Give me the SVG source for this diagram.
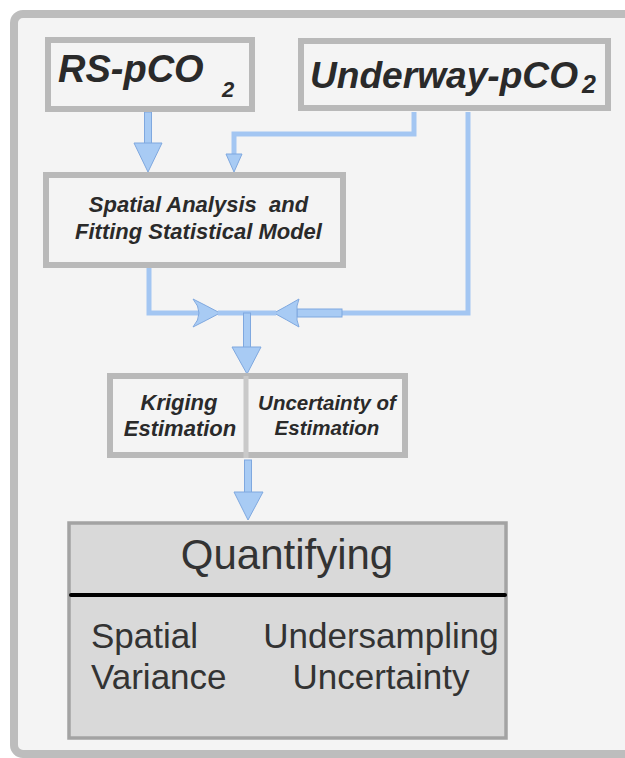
<svg xmlns="http://www.w3.org/2000/svg" width="625" height="758" viewBox="0 0 625 758">
<defs>
<style>
.box{fill:#f4f4f4;stroke:#b9b9b9;stroke-width:6}
.bi{font-family:"Liberation Sans",Arial,sans-serif;font-weight:bold;font-style:italic;fill:#2a2a2a}
.reg{font-family:"Liberation Sans",Arial,sans-serif;fill:#333333}
.line{fill:none;stroke:#a3c6f2;stroke-width:5;stroke-linejoin:miter}
.head{fill:#a8cbf4;stroke:#7fa8df;stroke-width:1}
</style>
</defs>
<rect width="625" height="758" fill="#ffffff"/>
<rect x="14" y="14" width="640" height="740" rx="9" fill="#f4f4f4" stroke="#bdbdbd" stroke-width="8"/>

<g id="connectors">
  <!-- RS to Spatial -->
  <rect x="144.5" y="112" width="7" height="32" class="head"/>
  <path d="M134,143 L162,143 L148,172 Z" class="head"/>
  <!-- Underway to Spatial -->
  <polyline points="414,112 414,134 234,134 234,156" class="line"/>
  <path d="M226,154 L242,154 L234,172 Z" class="head"/>
  <!-- Underway to junction -->
  <polyline points="468,112 468,313 340,313" class="line"/>
  <rect x="297" y="309" width="45" height="8" class="head"/>
  <path d="M274,313 Q287,306 299,299 Q296,306 297,313 Q296,320 299,327 Q287,320 274,313 Z" class="head"/>
  <!-- Spatial to junction -->
  <polyline points="149,268 149,313 200,313" class="line"/>
  <path d="M220,313 Q207,306 193,299 Q199,306 199,313 Q199,320 193,327 Q207,320 220,313 Z" class="head"/>
  <line x1="218" y1="313" x2="276" y2="313" class="line"/>
  <!-- junction to Kriging -->
  <rect x="243.5" y="313" width="7" height="35" class="head"/>
  <path d="M232,347 L261,347 L247,374 Z" class="head"/>
  <!-- Kriging to Quantifying -->
  <rect x="244.5" y="460" width="7" height="33" class="head"/>
  <path d="M234,492 L263,492 L248,520 Z" class="head"/>
</g>

<g id="rs">
  <rect x="48" y="40" width="204" height="69" class="box"/>
  <text x="58" y="82" class="bi" font-size="38">RS-pCO</text>
  <text x="222" y="97" class="bi" font-size="22">2</text>
</g>

<g id="underway">
  <rect x="301" y="41" width="307" height="67" class="box"/>
  <text x="310" y="88" class="bi" font-size="37" textLength="268" lengthAdjust="spacingAndGlyphs">Underway-pCO</text>
  <text x="582" y="93" class="bi" font-size="25">2</text>
</g>

<g id="spatial">
  <rect x="46" y="175" width="297" height="90" class="box"/>
  <text x="198.5" y="212" class="bi" font-size="22" text-anchor="middle" xml:space="preserve">Spatial Analysis  and</text>
  <text x="198.5" y="239" class="bi" font-size="22" text-anchor="middle">Fitting Statistical Model</text>
</g>

<g id="kriging">
  <rect x="110" y="376" width="295" height="79" class="box"/>
  <line x1="246" y1="376" x2="246" y2="458" stroke="#c9c9c9" stroke-width="5"/>
  <text x="179" y="410" class="bi" font-size="22" text-anchor="middle">Kriging</text>
  <text x="180" y="436" class="bi" font-size="22" text-anchor="middle">Estimation</text>
  <text x="327" y="410" class="bi" font-size="20.5" text-anchor="middle">Uncertainty of</text>
  <text x="327" y="435" class="bi" font-size="20.5" text-anchor="middle">Estimation</text>
</g>

<g id="quantifying">
  <rect x="69" y="523" width="437" height="215" fill="#d9d9d9" stroke="#a3a3a3" stroke-width="3.5"/>
  <line x1="71" y1="595" x2="505" y2="595" stroke="#000000" stroke-width="4" stroke-linecap="round"/>
  <text x="287" y="569" class="reg" font-size="42" text-anchor="middle">Quantifying</text>
  <text x="91" y="648" class="reg" font-size="35">Spatial</text>
  <text x="91" y="689" class="reg" font-size="35">Variance</text>
  <text x="381" y="648" class="reg" font-size="35" text-anchor="middle">Undersampling</text>
  <text x="381" y="689" class="reg" font-size="35" text-anchor="middle">Uncertainty</text>
</g>
</svg>
